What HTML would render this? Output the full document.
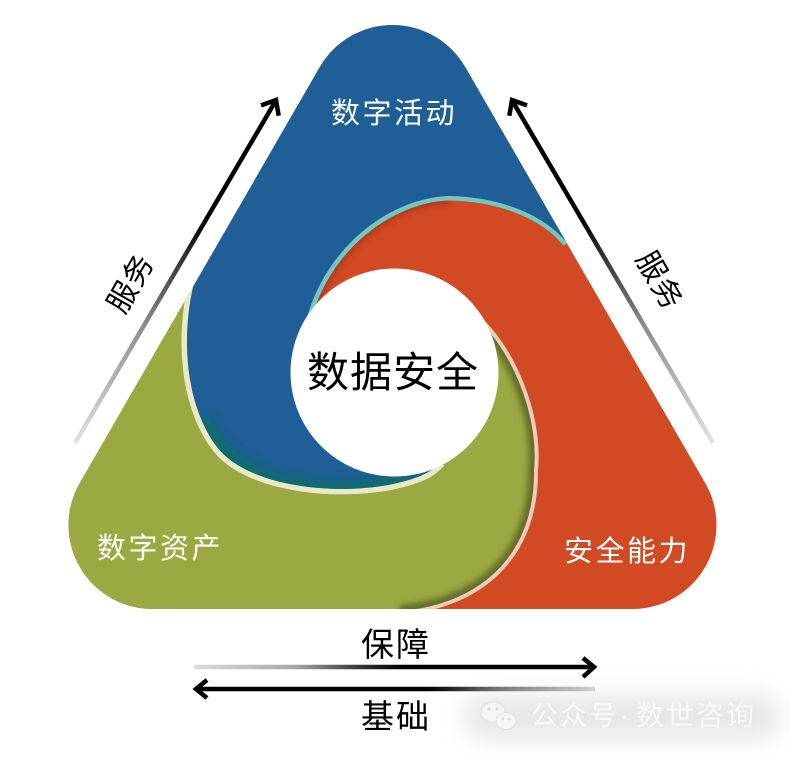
<!DOCTYPE html>
<html><head><meta charset="utf-8">
<style>
html,body{margin:0;padding:0;background:#fff;}
svg{display:block;}
text{font-family:"Liberation Sans","Noto Sans CJK SC",sans-serif;}
</style></head>
<body>
<svg width="790" height="757" viewBox="0 0 790 757" xmlns="http://www.w3.org/2000/svg">
<defs>
  <clipPath id="ct"><path d="M319.8,67 A84,84 0 0 1 465.2,67 L705.2,483 A84,84 0 0 1 632.5,609 L152.5,609 A84,84 0 0 1 79.8,483 Z"/></clipPath>
  <clipPath id="cg"><path d="M465,310 C505,335 540,410 534,470 C535,560 475,605 400,611 L400,700 L0,700 L0,287 L193,287 L394,372 Z"/></clipPath>
  <clipPath id="cb"><path d="M193,287 C183,330 182,400 217,447 C250,490 350,497 405,481 C420,477 432,472 440,462 L394,372 L303,335 C318,250 390,197 450,196 C500,197 545,215 567,243 L800,243 L800,-100 L0,-100 L0,287 Z"/></clipPath>
  <filter id="b3" x="-30%" y="-30%" width="160%" height="160%"><feGaussianBlur stdDeviation="3"/></filter>
  <filter id="b5" x="-30%" y="-60%" width="160%" height="220%"><feGaussianBlur stdDeviation="5"/></filter>
  <filter id="b12" x="-30%" y="-80%" width="160%" height="260%"><feGaussianBlur stdDeviation="12"/></filter>
  <linearGradient id="gl" gradientUnits="userSpaceOnUse" x1="75" y1="443" x2="276" y2="100">
    <stop offset="0" stop-color="#e2e2e2"/><stop offset="0.35" stop-color="#8a8a8a"/><stop offset="0.65" stop-color="#000"/><stop offset="1" stop-color="#000"/>
  </linearGradient>
  <linearGradient id="gr" gradientUnits="userSpaceOnUse" x1="713" y1="443" x2="512" y2="100">
    <stop offset="0" stop-color="#e2e2e2"/><stop offset="0.35" stop-color="#8a8a8a"/><stop offset="0.65" stop-color="#000"/><stop offset="1" stop-color="#000"/>
  </linearGradient>
  <linearGradient id="gt" gradientUnits="userSpaceOnUse" x1="194" y1="0" x2="594" y2="0">
    <stop offset="0" stop-color="#dcdcdc"/><stop offset="0.25" stop-color="#a8a8a8"/><stop offset="0.42" stop-color="#333"/><stop offset="0.52" stop-color="#000"/><stop offset="1" stop-color="#000"/>
  </linearGradient>
  <linearGradient id="gb" gradientUnits="userSpaceOnUse" x1="196" y1="0" x2="595" y2="0">
    <stop offset="0" stop-color="#000"/><stop offset="0.58" stop-color="#000"/><stop offset="0.8" stop-color="#7a7a7a"/><stop offset="1" stop-color="#d2d2d2"/>
  </linearGradient>
</defs>

<!-- main triangle swirl -->
<g clip-path="url(#ct)">
  <rect x="0" y="0" width="790" height="757" fill="#d24a23"/>
  <path d="M303,335 C318,250 390,197 450,196" fill="none" stroke="#8d2b12" stroke-width="16" opacity="0.5" filter="url(#b3)"/>
  <path d="M303,335 C318,250 390,197 450,196 C500,197 545,215 567,243" fill="none" stroke="#74c7bf" stroke-width="9"/>
  <path d="M465,310 C505,335 540,410 534,470 C535,560 475,605 400,611" fill="none" stroke="#f2cbbb" stroke-width="8"/>
  <path d="M465,310 C505,335 540,410 534,470 C535,560 475,605 400,611 L400,700 L0,700 L0,287 L193,287 L394,372 Z" fill="#9ca842"/>
  <g clip-path="url(#cg)">
    <path d="M465,310 C505,335 540,410 534,470 C535,560 475,605 400,611" fill="none" stroke="#3c4a1c" stroke-width="12" opacity="0.6" filter="url(#b3)"/>
  </g>
  <path d="M193,287 C183,330 182,400 217,447 C250,490 350,497 405,481 C420,477 432,472 440,462" fill="none" stroke="#e9e9c8" stroke-width="11"/>
  <path d="M193,287 C183,330 182,400 217,447 C250,490 350,497 405,481 C420,477 432,472 440,462 L394,372 L303,335 C318,250 390,197 450,196 C500,197 545,215 567,243 L800,243 L800,-100 L0,-100 L0,287 Z" fill="#1f5e96"/>
  <g clip-path="url(#cb)">
    <path d="M200,420 C215,450 240,475 290,486 C340,494 380,490 410,480" fill="none" stroke="#0e6e66" stroke-width="18" opacity="0.9" filter="url(#b5)"/>
  </g>
</g>

<!-- center circle -->
<circle cx="394.5" cy="372.5" r="104" fill="#fff"/>
<text x="307" y="387" font-size="42" letter-spacing="1" fill="#000">数据安全</text>

<!-- segment labels -->
<text x="331" y="123" font-size="29" letter-spacing="2.5" fill="#fff">数字活动</text>
<text x="97" y="558" font-size="29" letter-spacing="2.5" fill="#fff">数字资产</text>
<text x="564" y="561" font-size="29" letter-spacing="2.5" fill="#fff">安全能力</text>

<!-- side arrows -->
<line x1="75" y1="443" x2="275" y2="102" stroke="url(#gl)" stroke-width="4.5"/>
<polyline points="261,105.4 276,100 278.7,115.8" fill="none" stroke="#000" stroke-width="4.5" stroke-linejoin="miter"/>
<line x1="713" y1="443" x2="513" y2="102" stroke="url(#gr)" stroke-width="4.5"/>
<polyline points="527,105.4 512,100 509.3,115.8" fill="none" stroke="#000" stroke-width="4.5" stroke-linejoin="miter"/>

<text transform="translate(130,283) rotate(-60)" x="0" y="11" text-anchor="middle" font-size="30" letter-spacing="1" fill="#000">服务</text>
<text transform="translate(660,280) rotate(60)" x="0" y="11" text-anchor="middle" font-size="30" letter-spacing="1" fill="#000">服务</text>

<!-- bottom arrows -->
<text x="361" y="656" font-size="33" letter-spacing="2" fill="#000">保障</text>
<line x1="194" y1="667" x2="592" y2="667" stroke="url(#gt)" stroke-width="4.5"/>
<polyline points="583,658 594,667 583,677" fill="none" stroke="#000" stroke-width="4.5" stroke-linejoin="miter"/>
<line x1="198" y1="689" x2="595" y2="689" stroke="url(#gb)" stroke-width="4.5"/>
<polyline points="207,680 196,689 207,698" fill="none" stroke="#000" stroke-width="4.5" stroke-linejoin="miter"/>
<text x="361" y="728" font-size="33" letter-spacing="2" fill="#000">基础</text>

<!-- watermark -->
<rect x="465" y="695" width="315" height="44" rx="20" fill="#cfcfcf" opacity="0.5" filter="url(#b12)"/>
<g opacity="0.95">
  <ellipse cx="493" cy="712" rx="12" ry="10" fill="#f6f6f6" stroke="#e2e2e2" stroke-width="1"/>
  <ellipse cx="506" cy="721" rx="10" ry="8.5" fill="#f6f6f6" stroke="#e2e2e2" stroke-width="1"/>
  <circle cx="489" cy="709" r="1.6" fill="#d6d6d6"/>
  <circle cx="497" cy="709" r="1.6" fill="#d6d6d6"/>
  <circle cx="503" cy="719" r="1.3" fill="#d6d6d6"/>
  <circle cx="509" cy="719" r="1.3" fill="#d6d6d6"/>
</g>
<text x="531" y="725" font-size="27" letter-spacing="2" fill="#f8f8f8">公众号</text>
<text x="620" y="725" font-size="27" fill="#f8f8f8">·</text>
<text x="636" y="725" font-size="28" letter-spacing="2" fill="#f8f8f8">数世咨询</text>
</svg>
</body></html>
